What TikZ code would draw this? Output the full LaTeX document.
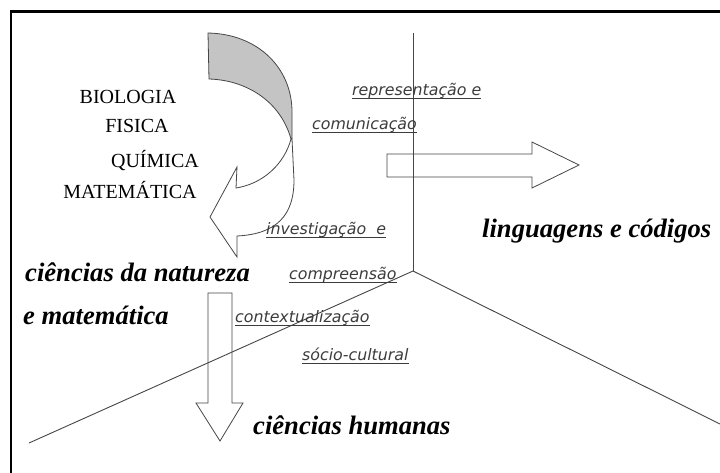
\documentclass[tikz,border=0pt]{standalone}
\usepackage{fontspec}
\setmainfont{Liberation Serif}
\newfontfamily\labfont{DejaVu Sans}
\definecolor{bandgrey}{RGB}{196,196,196}
\definecolor{linegrey}{RGB}{70,70,70}
\definecolor{labgrey}{RGB}{60,60,60}
\begin{document}
\begin{tikzpicture}[x=1pt,y=-1pt,
  axisline/.style={draw=linegrey,line width=0.9pt},
  outline/.style={draw=linegrey,line width=0.8pt},
  subj/.style={inner sep=0pt,anchor=base,font=\fontsize{20}{22}\selectfont},
  area/.style={inner sep=0pt,anchor=base west,font=\fontsize{26.6}{28}\selectfont\bfseries\itshape},
  lab/.style={inner sep=0pt,anchor=base west,text=labgrey,font=\fontsize{15.8}{17}\selectfont\labfont\itshape},
  ul/.style={draw=labgrey,line width=0.8pt}]
\useasboundingbox (0,0) rectangle (720,472);
\fill[white] (0,0) rectangle (720,472);
% frame
\draw[line width=2.6pt] (11,473) -- (11,11.5) -- (721,11.5);
% axes
\coordinate (c) at (413,271);
\coordinate (top) at (413,33);
\coordinate (bl) at (29,443);
\coordinate (br) at (720,424);
% down arrow
\path[outline,fill=white] (208,293) -- (232,293) -- (232,403) -- (243,403) -- (220,441) -- (196,403) -- (208,403) -- cycle;
% right arrow
\path[outline,fill=white] (387,154) -- (532,154) -- (532,142) -- (579,165) -- (532,188) -- (532,177) -- (387,177) -- cycle;
\draw[axisline] (top) -- (c);
\draw[axisline] (c) -- (bl);
\draw[axisline] (c) -- (br);
% curved arrow: grey back band
\path[outline,fill=bandgrey] (208,33) .. controls (258,34) and (292,68) .. (292,112) -- (292,139)
  -- (291,139) .. controls (280,100) and (245,80) .. (209,79) -- cycle;
% white front
\path[outline,fill=white] (291,139) .. controls (284,165) and (262,184) .. (236,188)
  -- (237,167) -- (210,217) -- (237,257) -- (237,236)
  .. controls (277,234) and (294,215) .. (294,180) -- (292,139) -- cycle;
% subjects
\node[subj] (bio) at (128,103) {BIOLOGIA};
\node[subj] (fis) at (137,132) {FISICA};
\node[subj] (qui) at (155,167) {QUÍMICA};
\node[subj] (mat) at (130,198) {MATEMÁTICA};
% areas
\node[area] (cn) at (25,281) {ciências da natureza};
\node[area] (em) at (23,324) {e matemática};
\node[area] (lc) at (482,237) {linguagens e códigos};
\node[area] (ch) at (253,434) {ciências humanas};
% competence labels
\node[lab] (rep) at (352,95) {representação e};
\node[lab] (com) at (312,129) {comunicação};
\node[lab] (inv) at (266,234) {investigação\ \ e};
\node[lab] (cmp) at (289,279) {compreensão};
\node[lab] (ctx) at (235,322) {contextualização};
\node[lab] (soc) at (302,360) {sócio-cultural};
\foreach \n in {rep,com,inv,cmp,ctx,soc}
  \draw[ul] ([yshift=-3pt]\n.base west) -- ([yshift=-3pt]\n.base east);
\end{tikzpicture}
\end{document}
